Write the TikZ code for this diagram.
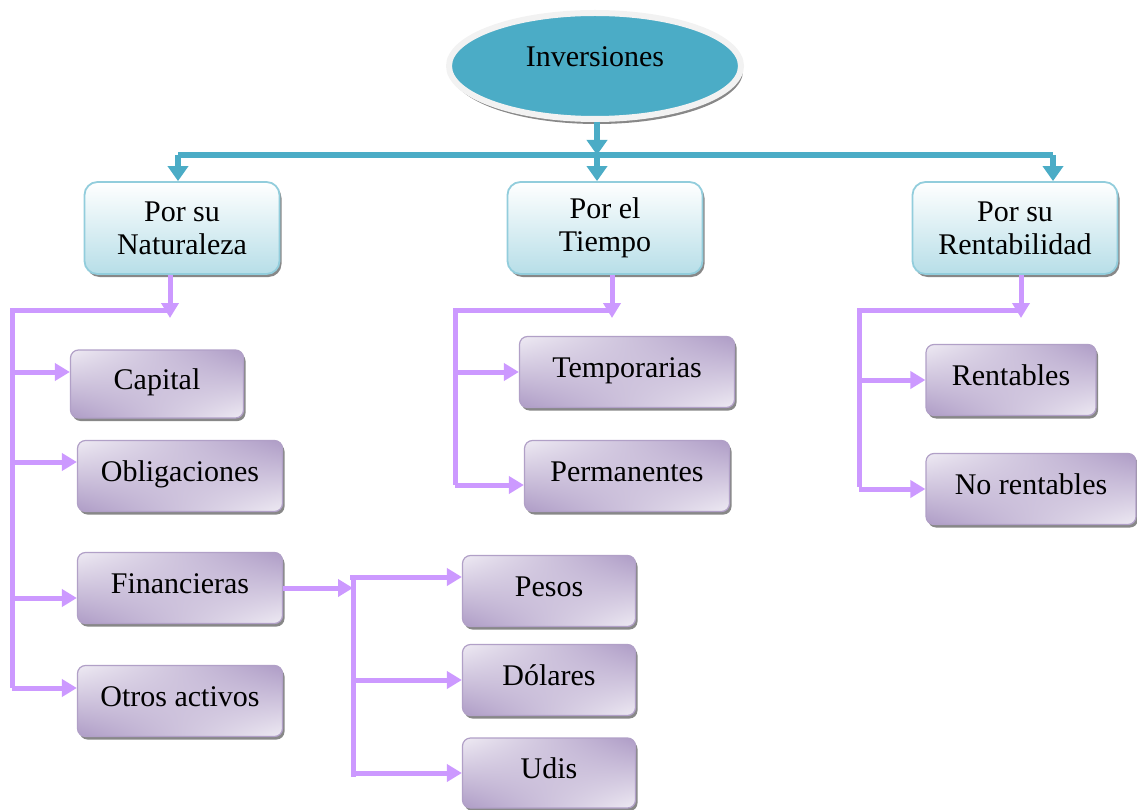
\documentclass[tikz,border=0pt]{standalone}
\usepackage{fontspec}
\setmainfont{Liberation Serif}
\usetikzlibrary{arrows.meta,positioning,shapes.geometric,shadows,shadings}
\definecolor{invteal}{HTML}{4BACC6}
\definecolor{rim}{HTML}{F2F2F2}
\definecolor{blueedge}{HTML}{92CDDC}
\definecolor{bluefill}{HTML}{B7DEE8}
\definecolor{purpedge}{HTML}{B1A0C7}
\definecolor{purpdark}{HTML}{AE9CC6}
\definecolor{purplight}{HTML}{EEEAF3}
\definecolor{linkviolet}{HTML}{CC99FF}
\tikzset{
  font=\fontsize{30}{33}\selectfont,
  boxshadow/.style={drop shadow={shadow xshift=2pt, shadow yshift=-3pt,
                    fill=black!55, opacity=.85}},
  rootnode/.style={ellipse, draw=rim, line width=6pt, fill=invteal,
                   minimum width=292pt, minimum height=106pt, text depth=18pt,
                   drop shadow={shadow xshift=2pt, shadow yshift=-5pt,
                   fill=black!55, opacity=.85}},
  groupbox/.style={rectangle, rounded corners=13pt, draw=blueedge,
                   line width=1.8pt, top color=white, bottom color=bluefill,
                   align=center, minimum height=92pt, inner sep=2pt, boxshadow},
  itembox/.style={rectangle, rounded corners=8pt, draw=purpedge,
                  line width=1.2pt, lower left=purpdark, upper right=purpdark,
                  upper left=purplight, lower right=purplight,
                  text height=20pt, text depth=10pt,
                  minimum height=71pt, inner sep=2pt, boxshadow},
  trunk/.style={draw=invteal, line width=6pt},
  trunkarrow/.style={trunk, -{Triangle[length=15pt,width=20pt]}},
  branch/.style={draw=linkviolet, line width=5pt, line join=miter},
  brancharrow/.style={branch, -{Triangle[length=15pt,width=17pt]}}
}

\begin{document}
\begin{tikzpicture}[x=1pt,y=-1pt]
\useasboundingbox (0,0) rectangle (1137,810);

% Top level and the three criteria.
\node[rootnode] (inv) at (595,66) {Inversiones};
\node[groupbox, minimum width=195pt] (nat) at (182,228) {Por su\\Naturaleza};
\node[groupbox, minimum width=195pt] (tie) at (605,228) {Por el\\Tiempo};
\node[groupbox, minimum width=205pt] (ren) at (1015,228) {Por su\\Rentabilidad};

\coordinate (barL) at (178,155);
\coordinate (barM) at (597,155);
\coordinate (barR) at (1053,155);
\draw[trunkarrow] (inv.south -| barM) -- (barM);
\draw[trunk] (barL) -- (barR);
\draw[trunkarrow] (barL) -- (barL |- nat.north);
\draw[trunkarrow] (barM) -- (barM |- tie.north);
\draw[trunkarrow] (barR) -- (barR |- ren.north);

% Por su naturaleza.
\node[itembox, minimum width=173pt, minimum height=68pt] (cap) at (157,384) {Capital};
\node[itembox, minimum width=205pt] (obl) at (180,476) {Obligaciones};
\node[itembox, minimum width=205pt] (fin) at (180,588) {Financieras};
\node[itembox, minimum width=205pt] (otr) at (180,701) {Otros activos};

\coordinate (natT) at (12,310);
\coordinate (natB) at (12,688);
\coordinate (natK) at (170,318);
\draw[brancharrow] (nat.south -| natK) -- (natK);
\draw[branch] (natK |- natT) -- (natT) -- (natB);
\draw[brancharrow] (natB |- 0,372) -- ([yshift=12pt]cap.west);
\draw[brancharrow] (natB |- 0,462) -- ([yshift=14pt]obl.west);
\draw[brancharrow] (natB |- 0,598) -- ([yshift=-10pt]fin.west);
\draw[brancharrow] (natB) -- (natB -| otr.west);

% Financieras by currency.
\node[itembox, minimum width=173pt] (pes) at (549,591) {Pesos};
\node[itembox, minimum width=173pt] (dol) at (549,680) {Dólares};
\node[itembox, minimum width=173pt, minimum height=70pt] (udi) at (549,773) {Udis};

\coordinate (finT) at (353,577);
\coordinate (finB) at (353,777);
\draw[brancharrow] (fin.east) -- (fin.east -| finT);
\draw[branch] ([yshift=-3pt]finT) -- (finB);
\draw[brancharrow] ([xshift=-3pt]finT) -- (finT -| pes.west);
\draw[brancharrow] (finB |- dol.west) -- (dol.west);
\draw[brancharrow] (finB |- udi.west) -- (udi.west);

% Por el tiempo.
\node[itembox, minimum width=215pt] (tem) at (627,372) {Temporarias};
\node[itembox, minimum width=205pt] (per) at (627,476) {Permanentes};

\coordinate (tieT) at (455,310);
\coordinate (tieB) at (455,485);
\coordinate (tieK) at (612,318);
\draw[brancharrow] (tie.south -| tieK) -- (tieK);
\draw[branch] (tieK |- tieT) -- (tieT) -- (tieB);
\draw[brancharrow] (tieB |- tem.west) -- (tem.west);
\draw[brancharrow] (tieB) -- (tieB -| per.west);

% Por su rentabilidad.
\node[itembox, minimum width=170pt] (rtb) at (1011,380) {Rentables};
\node[itembox, minimum width=210pt] (nor) at (1031,489) {No rentables};

\coordinate (renT) at (859,310);
\coordinate (renB) at (859,487);
\coordinate (renK) at (1021,318);
\draw[brancharrow] (ren.south -| renK) -- (renK);
\draw[branch] (renK |- renT) -- (renT) -- (renB);
\draw[brancharrow] (renB |- rtb.west) -- (rtb.west);
\draw[brancharrow] (renB |- nor.west) -- (nor.west);

\end{tikzpicture}
\end{document}
